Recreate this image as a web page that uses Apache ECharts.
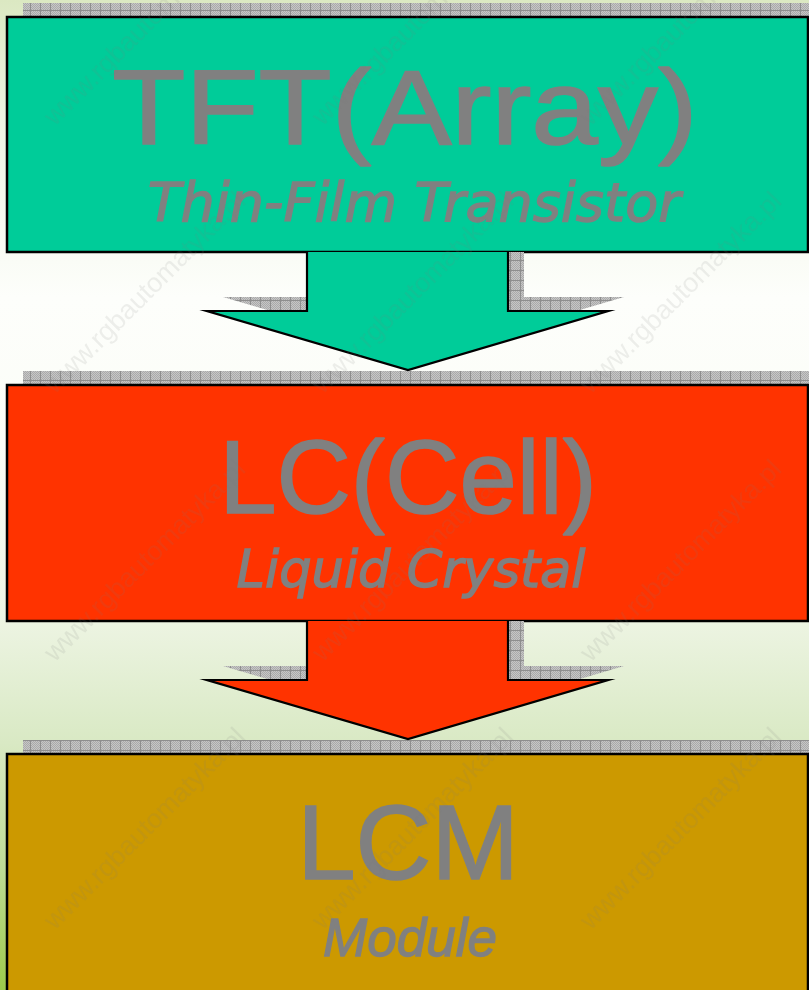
<!DOCTYPE html>
<html>
<head>
<meta charset="utf-8">
<script src="https://cdn.jsdelivr.net/npm/echarts@6/dist/echarts.min.js"></script>
<style>
html,body{margin:0;padding:0;}
#main{width:809px;height:990px;}
</style>
</head>
<body>
<div id="main"></div>
<script>
// ---- data ----
const categories = ['TFT(Array)', 'LC(Cell)', 'LCM'];
const subtitles = ['Thin-Film Transistor', 'Liquid Crystal', 'Module'];
const stageColors = ['#00cc99', '#ff3300', '#cc9900'];
const boxTop = [17, 385, 754];
const boxBottom = [252, 621, 1010];
const boxLeft = [7, 7, 7];
const boxRight = [808, 808, 808];
const titleBaseline = [146, 514, 880];
const subtitleBaseline = [223, 589, 957];
const titleSize = [106, 103, 105];
const titleStretch = [1.13, 1.0, 1.0];
const subtitleFont = ['DejaVu Sans', 'DejaVu Sans', 'Liberation Sans'];
const subtitleSize = [54, 51, 53];
const textCenterX = [405, 408, 408];
const subtitleCenterX = [414, 411, 410];

const arrowTop = [252, 621];
const arrowNeck = [311, 680];
const arrowTip = [370, 739];
const arrowStemLeft = [307, 307];
const arrowStemRight = [508, 508];
const arrowHeadLeft = [207, 207];
const arrowHeadRight = [608, 608];
const arrowTipX = [408, 408];

// ---- styles ----
const SHADOW_DX = 16, SHADOW_DY = -14;
const TOP_TO_BASELINE = 0.79;

function makePattern() {
  const c = document.createElement('canvas');
  c.width = 10; c.height = 10;
  const g = c.getContext('2d');
  g.fillStyle = '#c6c6c6';
  g.fillRect(0, 0, 10, 10);
  g.fillStyle = '#aaaaaa';
  for (let y = 0; y < 10; y++) for (let x = 0; x < 10; x++) if ((x + y) % 2 === 0) g.fillRect(x, y, 1, 1);
  g.fillStyle = '#8e8e8e';
  g.fillRect(0, 0, 10, 1);
  g.fillRect(0, 0, 1, 10);
  return c;
}
const pattern = { image: makePattern(), repeat: 'repeat' };

const chart = echarts.init(document.getElementById('main'), null, { renderer: 'canvas' });

const boxData = categories.map((c, i) => [boxLeft[i], boxTop[i], boxRight[i], boxBottom[i], i]);
const arrowData = arrowTop.map((t, i) => [i]);

function boxRender(params, api) {
  const i = api.value(4);
  const p0 = api.coord([api.value(0), api.value(1)]);
  const p1 = api.coord([api.value(2), api.value(3)]);
  const w = p1[0] - p0[0], h = p1[1] - p0[1];
  const tPos = api.coord([textCenterX[i], titleBaseline[i] - TOP_TO_BASELINE * titleSize[i]]);
  const sPos = api.coord([subtitleCenterX[i], subtitleBaseline[i] - TOP_TO_BASELINE * subtitleSize[i]]);
  return {
    type: 'group',
    children: [
      { type: 'rect', shape: { x: p0[0] + SHADOW_DX, y: p0[1] + SHADOW_DY, width: w, height: h },
        style: { fill: pattern } },
      { type: 'rect', shape: { x: p0[0], y: p0[1], width: w, height: h },
        style: { fill: stageColors[i], stroke: '#000', lineWidth: 2.5 } },
      { type: 'text', x: tPos[0], y: tPos[1], scaleX: titleStretch[i],
        style: { text: categories[i], fill: '#808080', stroke: '#808080', lineWidth: 1.6,
          font: 'normal ' + titleSize[i] + 'px "Liberation Sans", Arial, sans-serif',
          align: 'center', verticalAlign: 'top' } },
      { type: 'text', x: sPos[0], y: sPos[1],
        style: { text: subtitles[i], fill: '#808080', stroke: '#808080', lineWidth: 1.3,
          font: 'italic ' + subtitleSize[i] + 'px "' + subtitleFont[i] + '", sans-serif',
          align: 'center', verticalAlign: 'top' } }
    ]
  };
}

function arrowRender(params, api) {
  const i = api.value(0);
  const C = (x, y) => api.coord([x, y]);
  const pts = [
    C(arrowStemLeft[i], arrowTop[i]), C(arrowStemLeft[i], arrowNeck[i]), C(arrowHeadLeft[i], arrowNeck[i]),
    C(arrowTipX[i], arrowTip[i]), C(arrowHeadRight[i], arrowNeck[i]), C(arrowStemRight[i], arrowNeck[i]),
    C(arrowStemRight[i], arrowTop[i])
  ];
  const top = pts[0][1];
  const sh = pts.map(p => [p[0] + SHADOW_DX, Math.max(top, p[1] + SHADOW_DY)]);
  return {
    type: 'group',
    children: [
      { type: 'polygon', shape: { points: sh }, style: { fill: pattern } },
      { type: 'polygon', shape: { points: pts }, style: { fill: stageColors[i] } },
      { type: 'polyline', shape: { points: pts }, style: { stroke: '#000', lineWidth: 2.2, fill: null } }
    ]
  };
}

// watermark (decorative)
const watermarks = [];
for (let r = -1; r < 5; r++) {
  for (let c = -1; c < 4; c++) {
    watermarks.push({
      type: 'text', x: 40 + c * 268, y: 112 + r * 268, rotation: Math.PI / 4,
      style: { text: 'www.rgbautomatyka.pl', fill: 'rgba(120,120,120,0.12)', font: '27px "Liberation Sans", Arial, sans-serif' },
      z: 100, silent: true
    });
  }
}

chart.setOption({
  animation: false,
  backgroundColor: new echarts.graphic.LinearGradient(0, 0, 0, 1, [
    { offset: 0, color: '#dbe8c2' },
    { offset: 0.12, color: '#eef4e2' },
    { offset: 0.3, color: '#fdfefb' },
    { offset: 0.45, color: '#fbfdf7' },
    { offset: 0.62, color: '#eef5e4' },
    { offset: 0.75, color: '#d9e9c4' },
    { offset: 0.88, color: '#bedb93' },
    { offset: 1, color: '#9dca4b' }
  ]),
  grid: { left: 0, right: 0, top: 0, bottom: 0 },
  xAxis: { type: 'value', min: 0, max: 809, show: false },
  yAxis: { type: 'value', min: 0, max: 990, inverse: true, show: false },
  graphic: watermarks,
  series: [
    { type: 'custom', name: 'stages', data: boxData, renderItem: boxRender, clip: false, z: 2 },
    { type: 'custom', name: 'arrows', data: arrowData, renderItem: arrowRender, clip: false, z: 3 }
  ]
});
</script>
</body>
</html>
